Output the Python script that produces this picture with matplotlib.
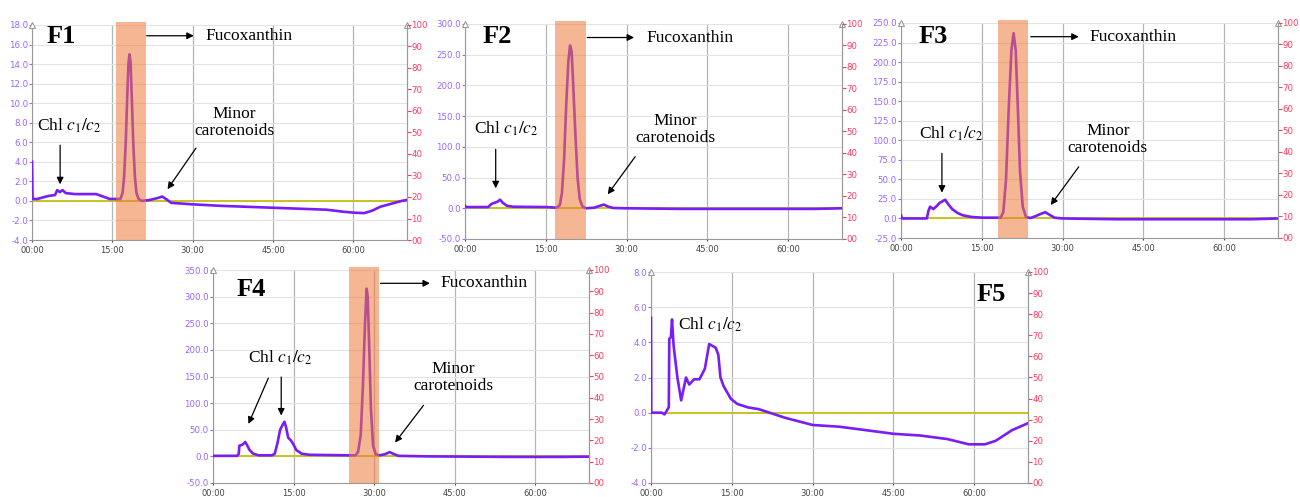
import matplotlib
matplotlib.use("Agg")
import matplotlib.pyplot as plt
from matplotlib.patches import Rectangle

plt.rcParams['mathtext.fontset'] = 'stix'
plt.rcParams['font.family'] = ['DejaVu Sans']

SERIF = ['Liberation Serif', 'DejaVu Serif']
TRACE = '#7A1CF5'
BASE = '#C8C21E'
LEFT_C = '#9A66FF'
RIGHT_C = '#FF3A5E'

x_ticks = [0, 15, 30, 45, 60]
x_labels = ['00:00', '15:00', '30:00', '45:00', '60:00']
right_ticks = list(range(0, 101, 10))
right_labels = ['00', '10', '20', '30', '40', '50', '60', '70', '80', '90', '100']

# ---- F1 ----
f1_time = [0, 0.1, 1, 3, 4.3, 4.7, 5.2, 5.7, 6.3, 8, 12, 13, 14.5, 16.5, 16.9, 17.2,
           17.5, 17.8, 18.0, 18.2, 18.4, 18.6, 18.9, 19.2, 19.5, 19.9, 20.5, 22, 23.5,
           24.3, 25, 26, 30, 35, 40, 45, 50, 55, 58, 60, 62, 63.5, 65, 67, 69, 70]
f1_signal = [4.0, 0.2, 0.2, 0.5, 0.6, 1.1, 0.9, 1.1, 0.8, 0.7, 0.7, 0.5, 0.2, 0.2, 0.8, 2.5,
             6.0, 11.0, 14.0, 15.0, 14.2, 11.0, 6.0, 2.5, 0.8, 0.2, 0.0, 0.1, 0.3,
             0.45, 0.2, -0.2, -0.35, -0.5, -0.6, -0.7, -0.8, -0.9, -1.1, -1.2, -1.25, -1.0, -0.6,
             -0.3, 0.0, 0.1]
f1_yticks = [-4, -2, 0, 2, 4, 6, 8, 10, 12, 14, 16, 18]
f1_band = (15.6, 21.2)

# ---- F2 ----
f2_time = [0, 0.2, 4.3, 4.9, 5.5, 6.1, 6.5, 7.0, 7.8, 9, 15, 17.0, 17.6, 18.0, 18.4, 18.8,
           19.2, 19.5, 19.8, 20.1, 20.5, 20.9, 21.3, 21.8, 22.5, 24, 25, 25.8, 26.5, 27.5,
           30, 40, 55, 65, 70]
f2_signal = [4, 2, 2, 7, 9, 11, 14, 9, 4, 2.5, 2, 1, 5, 25, 80, 170,
             240, 265, 255, 200, 120, 50, 15, 3, 0, 1, 4, 6, 3, 0.5,
             0, -1, -1, -1, 0]
f2_yticks = [-50, 0, 50, 100, 150, 200, 250, 300]
f2_band = (16.8, 22.4)

# ---- F3 ----
f3_time = [0, 0.2, 4.8, 5.1, 5.4, 6.0, 6.5, 7.2, 8.2, 8.8, 9.5, 10.5, 11.5, 13, 15, 18.5,
           19.0, 19.5, 20.0, 20.5, 20.9, 21.3, 21.7, 22.1, 22.6, 23.2, 24, 25, 26, 26.8,
           27.5, 28.5, 30, 40, 50, 60, 65, 70]
f3_signal = [4, 0, 0, 10, 15, 12, 15, 20, 24, 18, 12, 7, 4, 2, 1, 1,
             8, 50, 140, 215, 237, 215, 140, 60, 15, 2, 0.5, 3, 6, 8,
             5, 1, 0, -1, -1, -1, -1, 0]
f3_yticks = [-25, 0, 25, 50, 75, 100, 125, 150, 175, 200, 225, 250]
f3_band = (18.0, 23.55)

# ---- F4 ----
f4_time = [0, 4.5, 4.8, 4.9, 5.5, 6.0, 6.3, 6.8, 7.5, 8.5, 11, 11.5, 12.0, 12.5, 13.0, 13.3,
           13.6, 14.0, 14.5, 15.0, 15.5, 16.5, 18, 25, 26.5, 27.0, 27.5, 27.9, 28.3, 28.6,
           28.8, 29.1, 29.4, 29.8, 30.3, 31, 32, 32.9, 33.5, 34.5, 40, 55, 65, 70]
f4_signal = [1, 1, 5, 20, 22, 27, 22, 12, 5, 2, 2, 5, 25, 50, 60, 65,
             55, 35, 30, 22, 12, 5, 3, 2, 2, 8, 40, 130, 250, 315,
             300, 200, 90, 20, 4, 2, 4, 8, 5, 1, 0, -1, -1, -0.5]
f4_yticks = [-50, 0, 50, 100, 150, 200, 250, 300, 350]
f4_band = (25.3, 30.9)

# ---- F5 ----
f5_time = [0, 0.05, 2.0, 2.5, 3.3, 3.4, 3.7, 3.9, 4.2, 4.9, 5.6, 6.5, 7.1, 8, 9, 10, 10.8,
           12, 12.5, 12.9, 13.5, 14.8, 16, 18, 20, 22, 25, 30, 35, 40, 45, 50, 55, 59,
           62, 64, 67, 70]
f5_signal = [5.4, 0.0, 0.0, -0.1, 0.3, 4.2, 4.3, 5.3, 3.8, 2.0, 0.7, 2.0, 1.6, 1.9, 1.9, 2.5, 3.9,
             3.7, 3.3, 2.0, 1.5, 0.8, 0.5, 0.3, 0.2, 0.0, -0.3, -0.7, -0.8, -1.0, -1.2, -1.3, -1.5, -1.8,
             -1.8, -1.6, -1.0, -0.6]
f5_yticks = [-4, -2, 0, 2, 4, 6, 8]

# pixel boxes (left, top, right, bottom) in a 1300x497 figure
W, H = 1300, 497


def box(l, t, r, b):
    return [l / W, 1 - b / H, (r - l) / W, (b - t) / H]


fig = plt.figure(figsize=(13, 4.97), dpi=100)


def panel(rect, t, s, yticks, fmt, band=None):
    ax = fig.add_axes(rect)
    ax.set_xlim(0, 70)
    ax.set_ylim(yticks[0], yticks[-1])
    ax.set_yticks(yticks)
    ax.set_yticklabels([fmt % v for v in yticks])
    ax.set_xticks(x_ticks)
    ax.set_xticklabels(x_labels)
    ax.grid(axis='y', color='#e3e3e3', lw=0.8)
    ax.grid(axis='x', color='#b5b5b5', lw=0.9)
    ax.set_axisbelow(True)
    ax.tick_params(axis='y', colors=LEFT_C, labelsize=6.2, length=2, pad=1)
    ax.tick_params(axis='x', colors='#444444', labelsize=6.0, length=1.5, pad=2.5)
    ax.spines['top'].set_visible(False)
    for k in ('left', 'bottom', 'right'):
        ax.spines[k].set_color('#9a9a9a')
    ax.axhline(0, color=BASE, lw=1.4, zorder=2)
    ax.plot(t, s, color=TRACE, lw=1.9, zorder=3)
    if band is not None:
        ax.add_patch(Rectangle((band[0], yticks[0]), band[1] - band[0],
                               (yticks[-1] - yticks[0]) * 1.015,
                               facecolor='#EE7A3A', alpha=0.55, lw=0, zorder=4,
                               clip_on=False))
    ax2 = ax.twinx()
    ax2.set_ylim(0, 100)
    ax2.set_yticks(right_ticks)
    ax2.set_yticklabels(right_labels)
    ax2.tick_params(axis='y', colors=RIGHT_C, labelsize=6.2, length=3, pad=0)
    for k in ('top', 'left', 'bottom'):
        ax2.spines[k].set_visible(False)
    ax2.spines['right'].set_color('#9a9a9a')
    for xa in (0, 1):
        ax.plot(xa, 1.0, marker='^', ms=4, mfc='white', mec='#9a9a9a', mew=0.8,
                transform=ax.transAxes, clip_on=False, zorder=6)
    return ax


def label(ax, x, y, txt, **kw):
    ax.text(x, y, txt, family=SERIF, zorder=7, **kw)


def arrow(ax, tail, head):
    ax.annotate('', xy=head, xytext=tail, zorder=7,
                arrowprops=dict(arrowstyle='-|>', color='black', lw=0.9,
                                mutation_scale=10, shrinkA=0, shrinkB=0))


chl = r'Chl $c_1/c_2$'
minor = 'Minor\ncarotenoids'

a1 = panel(box(32, 25, 407, 240), f1_time, f1_signal, f1_yticks, '%.1f', f1_band)
label(a1, 2.8, 16.8, 'F1', fontsize=19, fontweight='bold', va='center')
arrow(a1, (21.4, 16.9), (30.2, 16.9))
label(a1, 32.4, 16.9, 'Fucoxanthin', fontsize=12.5, va='center')
label(a1, 7.0, 7.7, chl, fontsize=12.5, ha='center', va='center')
arrow(a1, (5.25, 5.7), (5.25, 1.7))
label(a1, 37.7, 8.0, minor, fontsize=12.5, ha='center', va='center', linespacing=1.05)
arrow(a1, (30.6, 5.4), (25.3, 1.2))

a2 = panel(box(465, 24, 842, 239), f2_time, f2_signal, f2_yticks, '%.1f', f2_band)
label(a2, 3.2, 279, 'F2', fontsize=19, fontweight='bold', va='center')
arrow(a2, (22.7, 278), (31.4, 278))
label(a2, 33.6, 278, 'Fucoxanthin', fontsize=12.5, va='center')
label(a2, 7.6, 130, chl, fontsize=12.5, ha='center', va='center')
arrow(a2, (5.7, 96), (5.7, 32.5))
label(a2, 39.0, 128.5, minor, fontsize=12.5, ha='center', va='center', linespacing=1.05)
arrow(a2, (31.6, 84), (26.5, 22.7))

a3 = panel(box(901, 23, 1278, 238), f3_time, f3_signal, f3_yticks, '%.1f', f3_band)
label(a3, 3.2, 232.5, 'F3', fontsize=19, fontweight='bold', va='center')
arrow(a3, (24.1, 232.5), (33.0, 232.5))
label(a3, 35.0, 232.5, 'Fucoxanthin', fontsize=12.5, va='center')
label(a3, 9.4, 108, chl, fontsize=12.5, ha='center', va='center')
arrow(a3, (7.6, 83.3), (7.6, 33))
label(a3, 38.4, 101, minor, fontsize=12.5, ha='center', va='center', linespacing=1.05)
arrow(a3, (33.0, 66), (27.8, 17.2))

a4 = panel(box(213, 270, 589, 483), f4_time, f4_signal, f4_yticks, '%.1f', f4_band)
label(a4, 4.3, 313, 'F4', fontsize=19, fontweight='bold', va='center')
arrow(a4, (31.2, 325), (40.4, 325))
label(a4, 42.3, 325, 'Fucoxanthin', fontsize=12.5, va='center')
label(a4, 12.6, 186, chl, fontsize=12.5, ha='center', va='center')
arrow(a4, (10.3, 147), (6.6, 61))
arrow(a4, (12.7, 149), (12.7, 76.7))
label(a4, 44.7, 148, minor, fontsize=12.5, ha='center', va='center', linespacing=1.05)
arrow(a4, (39.2, 96), (33.9, 26))

a5 = panel(box(651, 272, 1028, 483), f5_time, f5_signal, f5_yticks, '%.1f')
label(a5, 60.4, 6.7, 'F5', fontsize=19, fontweight='bold', va='center')
label(a5, 5.0, 5.0, chl, fontsize=12.5, va='center')

fig.savefig('out.png', dpi=100)
